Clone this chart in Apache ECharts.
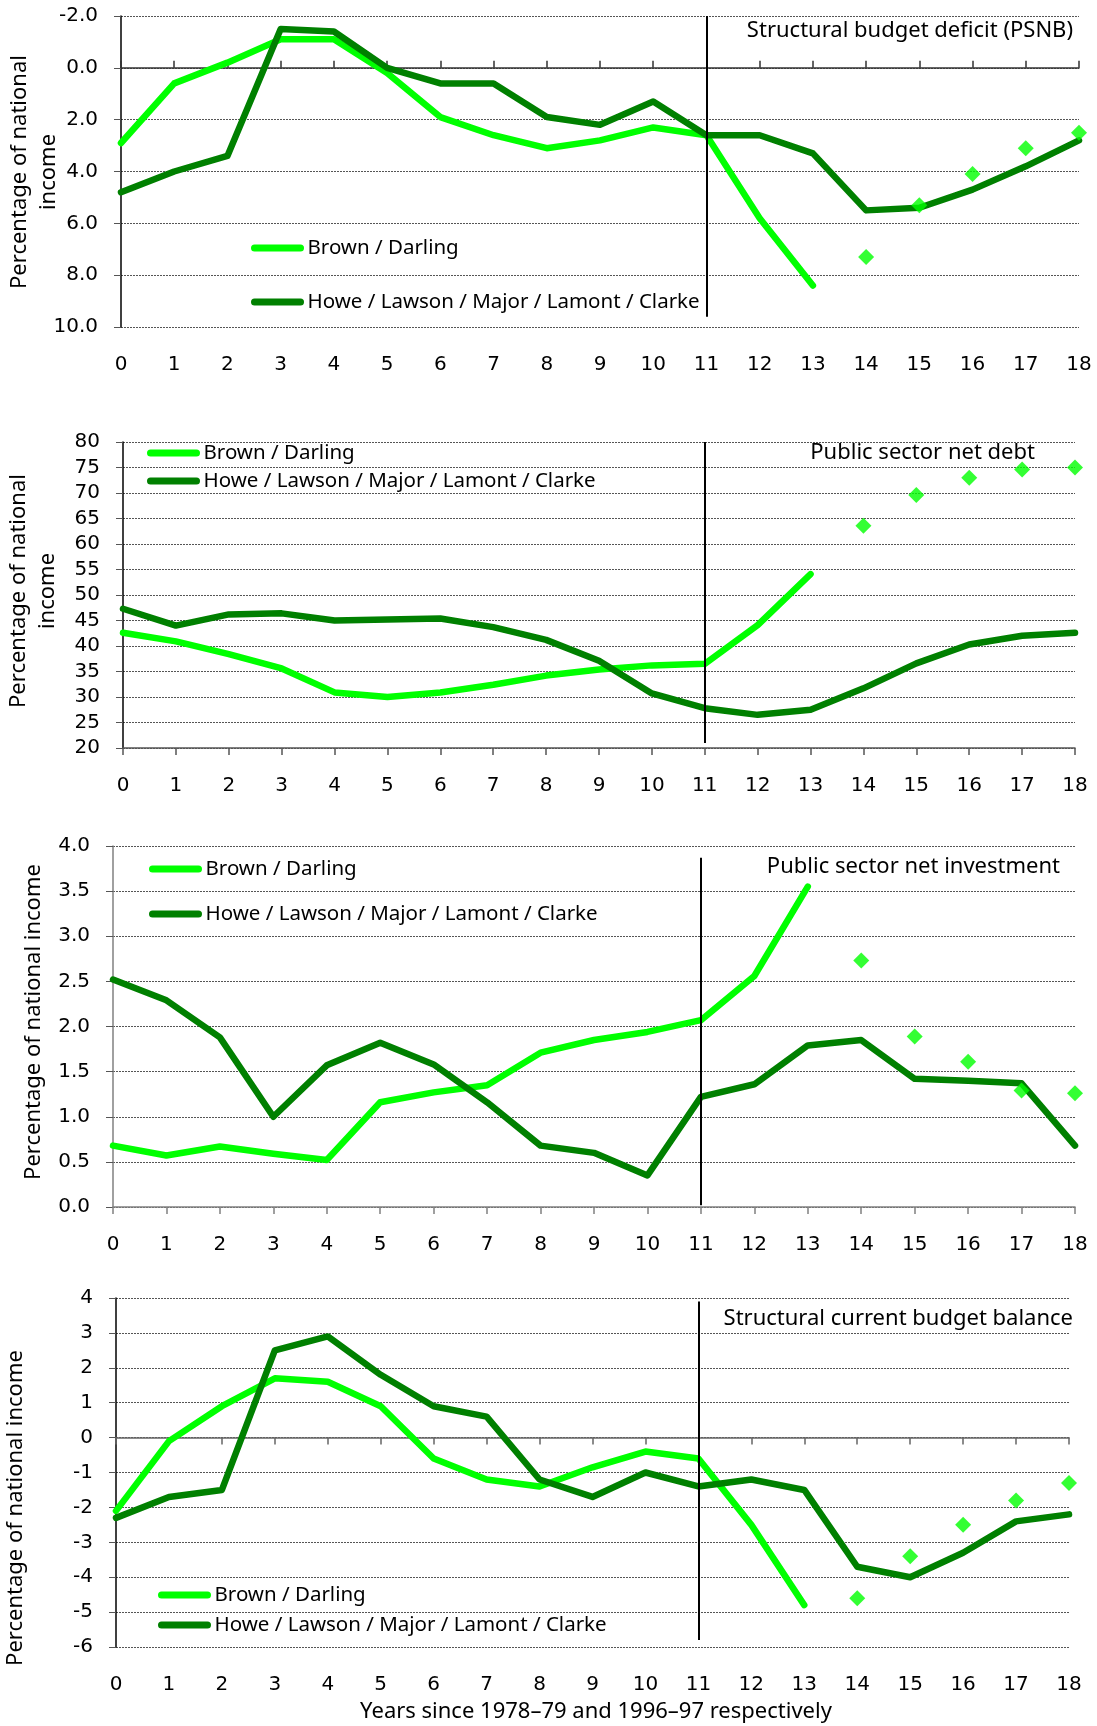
<!DOCTYPE html>
<html>
<head>
<meta charset="utf-8">
<title>Fiscal records compared</title>
<script src="https://cdn.jsdelivr.net/npm/echarts@6/dist/echarts.min.js"></script>
<style>
  html, body { margin: 0; padding: 0; background: #ffffff; }
  #chart { width: 1097px; height: 1726px; }
</style>
</head>
<body>
<div id="chart"></div>
<script>
// Years since the start of each chancellorship period
const years = [0, 1, 2, 3, 4, 5, 6, 7, 8, 9, 10, 11, 12, 13, 14, 15, 16, 17, 18];
const projectionYears = [14, 15, 16, 17, 18];

const seriesNames = ['Brown / Darling', 'Howe / Lawson / Major / Lamont / Clarke'];
const panelTitles = [
  'Structural budget deficit (PSNB)',
  'Public sector net debt',
  'Public sector net investment',
  'Structural current budget balance'
];

// Structural budget deficit (PSNB), % of national income
const psnbBrown = [2.9, 0.6, -0.2, -1.1, -1.1, 0.2, 1.9, 2.6, 3.1, 2.8, 2.3, 2.6, 5.8, 8.4];
const psnbBrownProj = [7.3, 5.3, 4.1, 3.1, 2.5];
const psnbHowe = [4.8, 4.0, 3.4, -1.5, -1.4, 0.0, 0.6, 0.6, 1.9, 2.2, 1.3, 2.6, 2.6, 3.3, 5.5, 5.4, 4.7, 3.8, 2.8];

// Public sector net debt, % of national income
const debtBrown = [42.6, 40.9, 38.4, 35.6, 30.9, 30.0, 30.9, 32.4, 34.2, 35.4, 36.2, 36.5, 44.1, 54.1];
const debtBrownProj = [63.6, 69.6, 73.0, 74.6, 75.0];
const debtHowe = [47.3, 44.0, 46.2, 46.4, 45.0, 45.2, 45.4, 43.7, 41.2, 37.1, 30.7, 27.8, 26.5, 27.5, 31.7, 36.6, 40.3, 42.0, 42.6];

// Public sector net investment, % of national income
const invBrown = [0.68, 0.57, 0.67, 0.59, 0.52, 1.16, 1.27, 1.35, 1.71, 1.85, 1.94, 2.07, 2.56, 3.55];
const invBrownProj = [2.73, 1.89, 1.61, 1.29, 1.26];
const invHowe = [2.52, 2.29, 1.88, 1.0, 1.57, 1.82, 1.58, 1.16, 0.68, 0.60, 0.35, 1.22, 1.36, 1.79, 1.85, 1.42, 1.40, 1.37, 0.68];

// Structural current budget balance, % of national income
const curBrown = [-2.1, -0.1, 0.9, 1.7, 1.6, 0.9, -0.6, -1.2, -1.4, -0.85, -0.4, -0.6, -2.5, -4.8];
const curBrownProj = [-4.6, -3.4, -2.5, -1.8, -1.3];
const curHowe = [-2.3, -1.7, -1.5, 2.5, 2.9, 1.8, 0.9, 0.6, -1.2, -1.7, -1.0, -1.4, -1.2, -1.5, -3.7, -4.0, -3.3, -2.4, -2.2];

// Year that separates the two halves of each period
const dividerYear = 11;

const FONT = "'Noto Sans', 'Open Sans', sans-serif";
const NUM_FONT = "'DejaVu Sans', 'Noto Sans', sans-serif";
const LIGHT = '#00ff00';
const DARK = '#008000';

const panels = [
  {
    brown: psnbBrown, brownProj: psnbBrownProj, howe: psnbHowe,
    min: -2, max: 10, step: 2, inverse: true, decimals: 1,
    grid: { left: 121, top: 16, width: 958, height: 311 },
    tickInside: true, yLineColor: '#000', xLineColor: '#333',
    divider: [-2, 9.6],
    title: { right: 24, top: 19 },
    legend: { left: 251, top: 236, itemGap: 30 },
    yName: { text: 'Percentage of national\nincome', x: 34, y: 172 }
  },
  {
    brown: debtBrown, brownProj: debtBrownProj, howe: debtHowe,
    min: 20, max: 80, step: 5, inverse: false, decimals: 0,
    grid: { left: 123, top: 442, width: 952, height: 306 },
    tickInside: false, yLineColor: '#000', xLineColor: '#555',
    divider: [80, 21],
    title: { right: 62, top: 441 },
    legend: { left: 147, top: 441, itemGap: 4 },
    yName: { text: 'Percentage of national\nincome', x: 33, y: 591 }
  },
  {
    brown: invBrown, brownProj: invBrownProj, howe: invHowe,
    min: 0, max: 4, step: 0.5, inverse: false, decimals: 1,
    grid: { left: 113, top: 846, width: 962, height: 361 },
    tickInside: false, yLineColor: '#808080', xLineColor: '#808080',
    divider: [3.87, 0.02],
    title: { right: 37, top: 855 },
    legend: { left: 149, top: 857, itemGap: 21 },
    yName: { text: 'Percentage of national income', x: 34, y: 1022 }
  },
  {
    brown: curBrown, brownProj: curBrownProj, howe: curHowe,
    min: -6, max: 4, step: 1, inverse: false, decimals: 0,
    grid: { left: 116, top: 1298, width: 953, height: 349 },
    tickInside: false, yLineColor: '#000', xLineColor: '#666',
    divider: [3.9, -5.8],
    title: { right: 24, top: 1307 },
    legend: { left: 158, top: 1583, itemGap: 6 },
    yName: { text: 'Percentage of national income', x: 16, y: 1508 }
  }
];

function pairs(xs, ys) {
  return ys.map(function (v, i) { return [xs[i], v]; });
}

const LEGEND_ICON = 'path://M4,0 L50,0 A3.5,3.5 0 0 1 50,7 L4,7 A3.5,3.5 0 0 1 4,0 Z';

const option = {
  animation: false,
  backgroundColor: '#ffffff',
  textStyle: { fontFamily: FONT, color: '#000' },
  grid: [], xAxis: [], yAxis: [], series: [], title: [], legend: [], graphic: []
};

panels.forEach(function (p, i) {
  option.grid.push(Object.assign({ containLabel: false }, p.grid));

  // x axis carrying the year labels along the bottom edge
  option.xAxis.push({
    type: 'value', gridIndex: i, position: 'bottom', min: 0, max: 18, interval: 1,
    axisLine: { show: false, onZero: false },
    axisTick: { show: false },
    splitLine: { show: false },
    axisLabel: { fontSize: 20, fontFamily: NUM_FONT, color: '#000', margin: 28 }
  });
  // x axis line with ticks, sitting on zero where zero is in range
  option.xAxis.push({
    type: 'value', gridIndex: i, position: 'bottom', min: 0, max: 18, interval: 1,
    axisLine: { show: true, onZero: true, lineStyle: { color: p.xLineColor, width: 1.5 } },
    axisTick: { show: true, inside: p.tickInside, length: 7, lineStyle: { color: p.xLineColor, width: 1.5 } },
    splitLine: { show: false },
    axisLabel: { show: false }
  });

  option.yAxis.push({
    type: 'value', gridIndex: i, min: p.min, max: p.max, interval: p.step, inverse: p.inverse,
    axisLine: { show: true, onZero: false, lineStyle: { color: p.yLineColor, width: 1.5 } },
    axisTick: { show: true, length: 7, lineStyle: { color: '#555', width: 1 } },
    splitLine: { show: true, lineStyle: { color: '#555', width: 1, type: [2, 1] } },
    axisLabel: {
      fontSize: 20, fontFamily: NUM_FONT, color: '#000', margin: 23,
      formatter: function (v) { return v.toFixed(p.decimals); }
    }
  });

  const xi = i * 2 + 1;
  option.series.push({
    name: seriesNames[0], type: 'line', xAxisIndex: xi, yAxisIndex: i,
    data: pairs(years, p.brown), showSymbol: false, symbol: 'none', z: 3,
    itemStyle: { color: LIGHT },
    lineStyle: { color: LIGHT, width: 6.5, cap: 'round', join: 'round' }
  });
  option.series.push({
    name: seriesNames[1], type: 'line', xAxisIndex: xi, yAxisIndex: i,
    data: pairs(years, p.howe), showSymbol: false, symbol: 'none', z: 4,
    itemStyle: { color: DARK },
    lineStyle: { color: DARK, width: 6.5, cap: 'round', join: 'round' },
    markLine: {
      silent: true, symbol: ['none', 'none'], animation: false,
      label: { show: false },
      lineStyle: { color: '#000', width: 2, type: 'solid' },
      data: [[{ coord: [dividerYear, p.divider[0]] }, { coord: [dividerYear, p.divider[1]] }]]
    }
  });
  option.series.push({
    name: seriesNames[0], type: 'scatter', xAxisIndex: xi, yAxisIndex: i,
    data: pairs(projectionYears, p.brownProj), symbol: 'diamond', symbolSize: 16, z: 5,
    itemStyle: { color: LIGHT }
  });

  option.title.push({
    text: panelTitles[i], right: p.title.right, top: p.title.top, padding: 0,
    textStyle: { fontSize: 22, fontWeight: 'normal', fontFamily: FONT, color: '#000', lineHeight: 24 }
  });

  option.legend.push({
    data: seriesNames, orient: 'vertical', left: p.legend.left, top: p.legend.top,
    itemGap: p.legend.itemGap, padding: 0, icon: LEGEND_ICON, itemWidth: 54, itemHeight: 7,
    selectedMode: false,
    textStyle: { fontSize: 20.5, fontFamily: FONT, color: '#000', lineHeight: 24, padding: [0, 0, 0, -2] }
  });

  option.graphic.push({
    type: 'text', x: p.yName.x, y: p.yName.y, rotation: Math.PI / 2, silent: true,
    style: { text: p.yName.text, font: '22px ' + FONT, fill: '#000', align: 'center', verticalAlign: 'middle', lineHeight: 29 }
  });
});

option.graphic.push({
  type: 'text', x: 596, y: 1712, silent: true,
  style: { text: 'Years since 1978–79 and 1996–97 respectively', font: '22px ' + FONT, fill: '#000', align: 'center', verticalAlign: 'middle' }
});

const chart = echarts.init(document.getElementById('chart'), null, { renderer: 'canvas' });
chart.setOption(option);
</script>
</body>
</html>
